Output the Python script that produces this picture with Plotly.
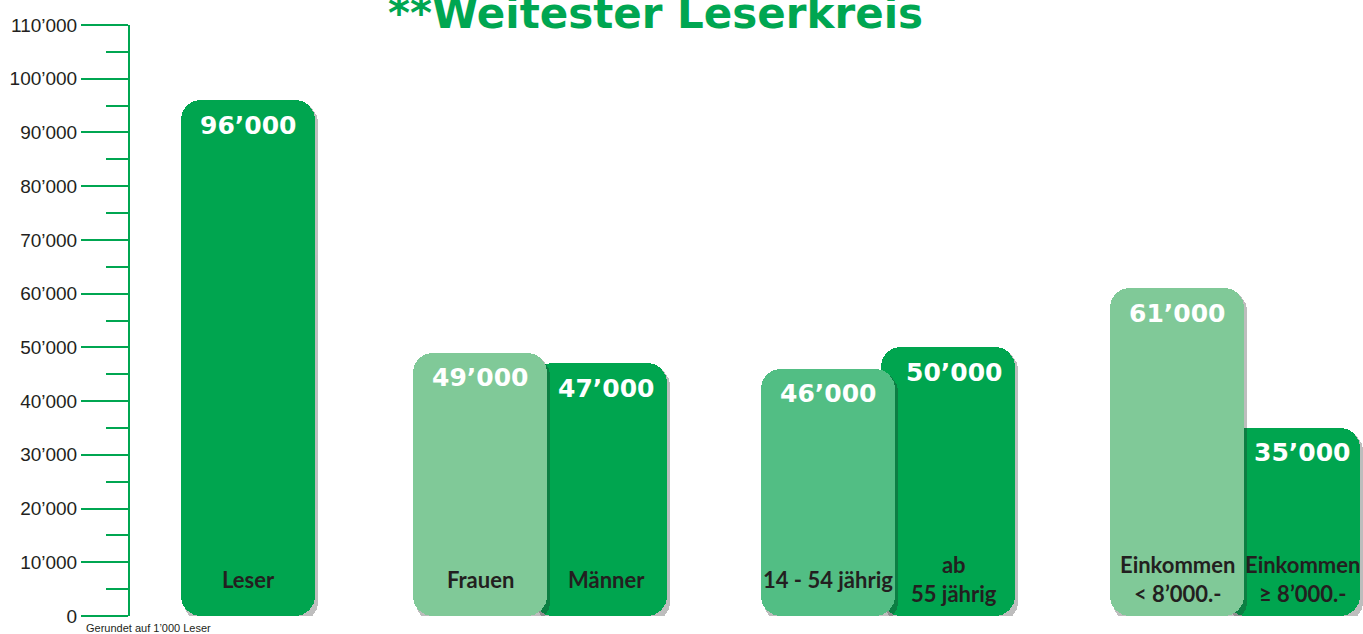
import plotly.graph_objects as go

# ---- data ----
categories = ["Leser", "Frauen", "Männer", "14 - 54 jährig", "ab<br>55 jährig",
              "Einkommen<br>&lt; 8’000.-", "Einkommen<br>≥ 8’000.-"]
values = [96000, 49000, 47000, 46000, 50000, 61000, 35000]
value_labels = ["96’000", "49’000", "47’000", "46’000", "50’000", "61’000", "35’000"]
tick_vals = [0, 10000, 20000, 30000, 40000, 50000, 60000, 70000, 80000, 90000, 100000, 110000]
tick_text = ["0", "10’000", "20’000", "30’000", "40’000", "50’000", "60’000", "70’000",
             "80’000", "90’000", "100’000", "110’000"]
minor_vals = [5000, 15000, 25000, 35000, 45000, 55000, 65000, 75000, 85000, 95000, 105000]

# ---- layout / style ----
x_pos = [248, 480, 600, 828, 948, 1177, 1293]
label_shift = [0, 0, 6, 0, 6, 0, 9]
layer = [0, 1, 0, 1, 0, 1, 0]  # 1 = drawn on top
DARK = "#00a54f"
LIGHT = "#80c998"
MID = "#52be84"
colors = [DARK, LIGHT, DARK, MID, DARK, LIGHT, DARK]
BAR_W = 134
RADIUS = 20
GREEN = "#00a651"
TXT = "#231f20"

fig = go.Figure()

px_per_unit = 591 / 110000


def add_group(idx):
    xs = [x_pos[i] for i in idx]
    vs = [values[i] for i in idx]
    cs = [colors[i] for i in idx]
    # shadow: both pieces in one trace, trace-level opacity -> no double darkening
    off = 3 / px_per_unit
    sx = [x + 3 for x in xs]
    fig.add_trace(go.Bar(x=sx + sx,
                         y=[-(0.6 * v + off) for v in vs] + [0.6 * v for v in vs],
                         base=[0.6 * v - off for v in vs] + [0.4 * v - off for v in vs],
                         width=BAR_W, opacity=0.3,
                         marker=dict(color="#282828", cornerradius=RADIUS, line=dict(width=0)),
                         hoverinfo="skip", showlegend=False))
    # bar: lower piece (rounded at bottom) and upper piece (rounded at top)
    fig.add_trace(go.Bar(x=xs + xs,
                         y=[-0.6 * v for v in vs] + [0.6 * v for v in vs],
                         base=[0.6 * v for v in vs] + [0.4 * v for v in vs],
                         width=BAR_W,
                         marker=dict(color=cs + cs, cornerradius=RADIUS, line=dict(width=0)),
                         hoverinfo="skip", showlegend=False))


add_group([i for i in range(len(values)) if layer[i] == 0])
add_group([i for i in range(len(values)) if layer[i] == 1])

annotations = []
for i in range(len(values)):
    annotations.append(dict(x=x_pos[i], y=values[i], xref="x", yref="y", text=value_labels[i],
                            showarrow=False, yanchor="middle", yshift=-25, xshift=label_shift[i],
                            font=dict(family="DejaVu Sans", size=25, color="white", weight="bold")))
    annotations.append(dict(x=x_pos[i], y=0, xref="x", yref="y", text=categories[i],
                            showarrow=False, yanchor="middle", yshift=37, xshift=label_shift[i],
                            font=dict(family="Lato", size=22, color=TXT, weight=700)))

annotations.append(dict(x=655, y=1, xref="x", yref="paper", yshift=12, text="**Weitester Leserkreis",
                        showarrow=False, yanchor="middle",
                        font=dict(family="DejaVu Sans", size=42, color=GREEN, weight="bold")))
annotations.append(dict(x=0, y=0, xref="paper", yref="paper", xshift=-46, yshift=-12,
                        text="Gerundet auf 1’000 Leser", showarrow=False, xanchor="left", yanchor="middle",
                        font=dict(family="Liberation Sans", size=11, color=TXT)))

fig.update_layout(
    width=1363, height=634,
    margin=dict(l=130, r=0, t=25, b=18),
    paper_bgcolor="white", plot_bgcolor="white",
    barmode="overlay", bargap=0,
    showlegend=False,
    annotations=annotations,
    xaxis=dict(range=[130, 1363], visible=False, fixedrange=True),
    yaxis=dict(range=[0, 110000], showgrid=False, zeroline=False, automargin=False,
               showline=True, linecolor=GREEN, linewidth=2,
               ticks="outside", ticklen=47, tickwidth=2, tickcolor=GREEN,
               tickvals=tick_vals, ticktext=tick_text,
               tickfont=dict(family="Liberation Sans", size=19, color=TXT),
               minor=dict(tickvals=minor_vals, ticks="outside", ticklen=22, tickwidth=2, tickcolor=GREEN),
               fixedrange=True),
)

fig.write_html("out.html", config={"displayModeBar": False},
               post_script="document.body.style.margin='0';document.body.style.overflow='hidden';")
